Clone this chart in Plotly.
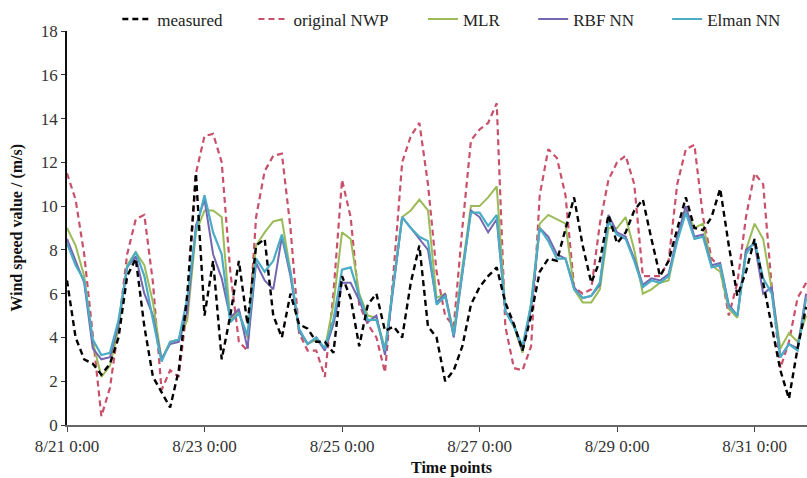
import pandas as pd
import plotly.graph_objects as go

# 3-hourly time points from 8/21 0:00 to 8/31 18:00
times = pd.date_range("2012-08-21 00:00", periods=87, freq="3h")

measured = [6.6, 4.0, 3.0, 2.8, 2.3, 2.8, 4.0, 6.8, 7.6, 4.5,
            2.2, 1.5, 0.8, 2.5, 6.0, 11.5, 5.0, 7.5, 3.0, 5.0,
            7.5, 4.6, 8.2, 8.5, 5.0, 4.0, 6.0, 4.6, 4.4, 3.8,
            3.8, 3.3, 6.8, 5.8, 3.6, 5.5, 6.0, 4.3, 4.5, 4.0,
            6.5, 8.2, 4.5, 4.0, 2.0, 2.5, 3.6, 5.5, 6.3, 6.8,
            7.2, 5.6, 4.6, 3.4, 5.0, 7.0, 7.6, 7.5, 9.0, 10.4,
            8.2, 6.5, 7.5, 9.6, 8.3, 8.8, 9.8, 10.3, 8.5, 6.8,
            7.5, 9.0, 10.4, 9.0, 8.9, 9.5, 10.8, 8.2, 5.9, 7.0,
            8.5, 6.5, 4.5, 2.5, 1.2, 3.5, 5.4]

nwp = [11.5, 10.3, 7.8, 4.0, 0.4, 1.7, 4.5, 7.8, 9.4, 9.6,
       6.5, 1.6, 2.5, 2.2, 5.5, 11.5, 13.2, 13.3, 12.0, 7.0,
       3.8, 3.4, 9.5, 11.6, 12.3, 12.4, 9.0, 4.2, 3.4, 3.4,
       2.2, 6.0, 11.2, 9.5, 5.5, 4.6, 4.0, 2.4, 7.0, 12.0,
       13.2, 13.8, 11.0, 7.0, 5.0, 4.5, 9.0, 13.0, 13.5, 13.8,
       14.7, 4.5, 2.6, 2.5, 3.6, 10.5, 12.6, 12.2, 10.5, 6.3,
       6.0, 6.2, 9.2, 11.2, 12.0, 12.3, 11.0, 6.8, 6.8, 6.8,
       7.5, 11.0, 12.6, 12.8, 9.5, 7.6, 7.2, 5.0, 6.5, 9.5,
       11.5, 11.0, 6.3, 2.6, 3.8, 5.8, 6.5]

mlr = [9.0, 8.2, 6.8, 3.8, 2.2, 2.7, 4.4, 7.3, 7.9, 7.3,
       5.6, 3.0, 3.8, 3.9, 4.8, 8.8, 9.8, 9.8, 9.5, 4.8,
       5.2, 4.0, 8.2, 8.8, 9.3, 9.4, 7.0, 4.3, 3.7, 3.9,
       3.5, 5.5, 8.8, 8.5, 6.0, 5.0, 4.9, 3.5, 6.5, 9.5,
       9.8, 10.3, 9.8, 5.8, 6.0, 4.2, 7.2, 10.0, 10.0, 10.4,
       10.9, 5.2, 4.5, 3.3, 5.6, 9.2, 9.6, 9.4, 9.2, 6.2,
       5.6, 5.6, 6.2, 9.0, 9.0, 9.5, 8.0, 6.0, 6.2, 6.5,
       6.6, 8.5, 9.8, 9.0, 9.2, 7.3, 7.0, 5.3, 4.9, 8.0,
       9.2, 8.5, 6.2, 3.5, 4.2, 3.8, 5.0]

rbf = [8.5, 7.5, 6.5, 3.5, 3.0, 3.1, 4.6, 7.2, 7.7, 6.0,
       5.0, 3.0, 3.7, 3.8, 5.2, 9.1, 10.3, 7.8, 6.7, 4.9,
       5.3, 3.5, 7.4, 6.6, 6.2, 8.6, 6.8, 4.3, 3.7, 4.0,
       3.4, 4.6, 6.5, 6.5, 5.7, 4.7, 5.0, 3.2, 6.3, 9.5,
       9.0, 8.5, 8.0, 5.6, 6.0, 4.0, 7.0, 9.8, 9.5, 8.8,
       9.4, 5.2, 4.6, 3.4, 5.3, 9.0, 8.6, 7.8, 7.6, 6.3,
       5.8, 5.9, 6.4, 9.6, 8.8, 8.6, 7.6, 6.4, 6.7, 6.6,
       6.9, 8.6, 10.0, 8.6, 8.7, 7.3, 7.4, 5.5, 5.0, 8.0,
       8.3, 6.0, 6.3, 3.1, 3.7, 3.5, 6.0]

elman = [8.3, 7.3, 6.6, 3.9, 3.2, 3.3, 4.8, 7.2, 7.9, 6.8,
         4.8, 2.9, 3.8, 3.9, 5.8, 8.9, 10.5, 8.8, 7.8, 4.7,
         5.1, 4.1, 7.6, 7.0, 7.5, 8.7, 7.0, 4.4, 3.7, 4.0,
         3.5, 4.8, 7.1, 7.2, 5.9, 4.8, 4.8, 3.4, 6.5, 9.5,
         9.0, 8.6, 8.4, 5.5, 5.9, 4.1, 7.0, 9.7, 9.7, 9.1,
         9.6, 5.2, 4.5, 3.6, 5.5, 9.0, 8.4, 7.6, 7.6, 6.2,
         5.8, 5.9, 6.5, 9.3, 8.7, 8.5, 7.5, 6.3, 6.6, 6.5,
         6.8, 8.4, 9.7, 8.5, 8.6, 7.2, 7.3, 5.4, 5.0, 7.8,
         8.4, 6.7, 6.0, 3.1, 3.7, 3.4, 5.8]

series_names = ["measured", "original NWP", "MLR", "RBF NN", "Elman NN"]
y_ticks = [0, 2, 4, 6, 8, 10, 12, 14, 16, 18]

SERIF = "Liberation Serif, Times New Roman, serif"

fig = go.Figure()
# drawing order: NWP, MLR, RBF, Elman, measured on top; one legend box per series
fig.add_trace(go.Scatter(x=times, y=nwp, name=series_names[1], mode="lines",
                         line=dict(color="#C8506A", width=2.2, dash="6px,4px"),
                         legend="legend2"))
fig.add_trace(go.Scatter(x=times, y=mlr, name=series_names[2], mode="lines",
                         line=dict(color="#9BBB59", width=2), legend="legend3"))
fig.add_trace(go.Scatter(x=times, y=rbf, name=series_names[3], mode="lines",
                         line=dict(color="#7466B0", width=2), legend="legend4"))
fig.add_trace(go.Scatter(x=times, y=elman, name=series_names[4], mode="lines",
                         line=dict(color="#4BACC6", width=2.2), legend="legend5"))
fig.add_trace(go.Scatter(x=times, y=measured, name=series_names[0], mode="lines",
                         line=dict(color="#000000", width=2.4, dash="6px,4px"),
                         legend="legend"))

def leg(xpos):
    return dict(orientation="h", x=xpos, y=1.075, xanchor="left", yanchor="top",
                font=dict(family=SERIF, size=17, color="#222"),
                bgcolor="rgba(0,0,0,0)", borderwidth=0)

fig.update_layout(
    width=807, height=478,
    margin=dict(l=67, r=0, t=31, b=53),
    paper_bgcolor="white", plot_bgcolor="white",
    font=dict(family=SERIF, size=17, color="#222"),
    showlegend=True,
    legend=leg(0.068),
    legend2=leg(0.252),
    legend3=leg(0.481),
    legend4=leg(0.630),
    legend5=leg(0.811),
    xaxis=dict(type="date",
               range=["2012-08-21 00:00", "2012-08-31 18:18"],
               tick0="2012-08-21 00:00", dtick=2 * 86400000,
               tickformat="%-m/%-d %-H:%M",
               showline=True, linecolor="#666", linewidth=1.5,
               ticks="outside", ticklen=5, tickcolor="#444",
               showgrid=False, zeroline=False,
               tickfont=dict(family=SERIF, size=17, color="#333")),
    yaxis=dict(range=[0, 18], tickvals=y_ticks,
               showline=True, linecolor="#111", linewidth=1.5,
               ticks="outside", ticklen=4, tickcolor="#333",
               showgrid=False, zeroline=False,
               tickfont=dict(family=SERIF, size=17, color="#333")),
    annotations=[
        dict(text="<b>Time points</b>", xref="paper", yref="paper",
             x=0.52, y=-0.109, xanchor="center", yanchor="middle",
             showarrow=False, font=dict(family=SERIF, size=16, color="#111")),
        dict(text="<b>Wind speed value / (m/s)</b>", xref="paper", yref="paper",
             x=-0.068, y=0.5, xanchor="center", yanchor="middle", textangle=-90,
             showarrow=False, font=dict(family=SERIF, size=16, color="#111")),
    ],
)

fig.write_html("out.html")
